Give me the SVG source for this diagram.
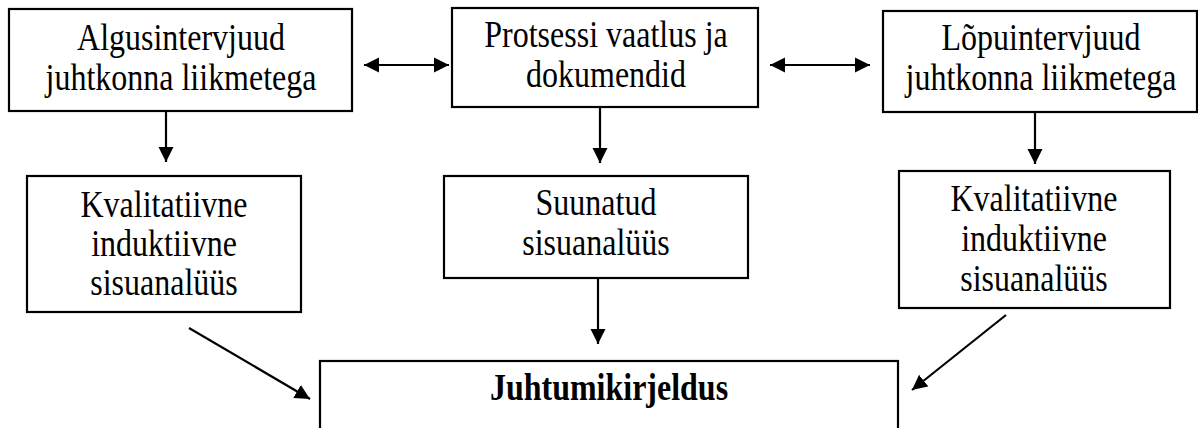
<svg xmlns="http://www.w3.org/2000/svg" width="1198" height="428" viewBox="0 0 1198 428">
<style>
.box{fill:#fff;stroke:#000;stroke-width:2.2}
.t{font-family:"Liberation Serif","Times New Roman",serif;font-size:32px;fill:#000;text-anchor:middle}
.b{font-weight:bold}
.c{stroke:#000;stroke-width:2.2;fill:none}
</style>
<defs>
<marker id="ah" markerUnits="userSpaceOnUse" markerWidth="16" markerHeight="16" viewBox="0 0 16 16" refX="15" refY="8" orient="auto-start-reverse">
<path d="M0,0.5 L15,8 L0,15.5 z" fill="#000"/>
</marker>
</defs>
<rect width="1198" height="428" fill="#fff"/>
<g id="connectors">
<line class="c" x1="364" y1="65" x2="449" y2="65" marker-start="url(#ah)" marker-end="url(#ah)"/>
<line class="c" x1="770" y1="65" x2="870" y2="65" marker-start="url(#ah)" marker-end="url(#ah)"/>
<line class="c" x1="166" y1="111" x2="166" y2="162" marker-end="url(#ah)"/>
<line class="c" x1="600" y1="107" x2="600" y2="163" marker-end="url(#ah)"/>
<line class="c" x1="1035" y1="112" x2="1035" y2="164" marker-end="url(#ah)"/>
<line class="c" x1="598" y1="278" x2="598" y2="344" marker-end="url(#ah)"/>
<line class="c" x1="189" y1="328" x2="310" y2="399" marker-end="url(#ah)"/>
<line class="c" x1="1006" y1="315" x2="912" y2="390" marker-end="url(#ah)"/>
</g>
<g id="n1">
<rect class="box" x="9" y="9" width="343" height="102"/>
<text class="t" transform="translate(181,50) scale(1,1.18)">Algusintervjuud</text>
<text class="t" transform="translate(181,90) scale(1,1.18)">juhtkonna liikmetega</text>
</g>
<g id="n2">
<rect class="box" x="452" y="8" width="306" height="99"/>
<text class="t" transform="translate(606,47) scale(1,1.18)">Protsessi vaatlus ja</text>
<text class="t" transform="translate(606,87) scale(1,1.18)">dokumendid</text>
</g>
<g id="n3">
<rect class="box" x="883" y="11" width="314" height="101"/>
<text class="t" transform="translate(1041,50) scale(1,1.18)">Lõpuintervjuud</text>
<text class="t" transform="translate(1041,90) scale(1,1.18)">juhtkonna liikmetega</text>
</g>
<g id="n4">
<rect class="box" x="27" y="176" width="274" height="136"/>
<text class="t" transform="translate(164,217) scale(1,1.18)">Kvalitatiivne</text>
<text class="t" transform="translate(164,256) scale(1,1.18)">induktiivne</text>
<text class="t" transform="translate(164,295) scale(1,1.18)">sisuanalüüs</text>
</g>
<g id="n5">
<rect class="box" x="444" y="176" width="304" height="102"/>
<text class="t" transform="translate(596,215) scale(1,1.18)">Suunatud</text>
<text class="t" transform="translate(596,255) scale(1,1.18)">sisuanalüüs</text>
</g>
<g id="n6">
<rect class="box" x="899" y="171" width="271" height="137"/>
<text class="t" transform="translate(1034,211) scale(1,1.18)">Kvalitatiivne</text>
<text class="t" transform="translate(1034,251) scale(1,1.18)">induktiivne</text>
<text class="t" transform="translate(1034,291) scale(1,1.18)">sisuanalüüs</text>
</g>
<g id="n7">
<rect class="box" x="320" y="361" width="578" height="80"/>
<text class="t b" transform="translate(609,400) scale(1,1.18)">Juhtumikirjeldus</text>
</g>
</svg>
